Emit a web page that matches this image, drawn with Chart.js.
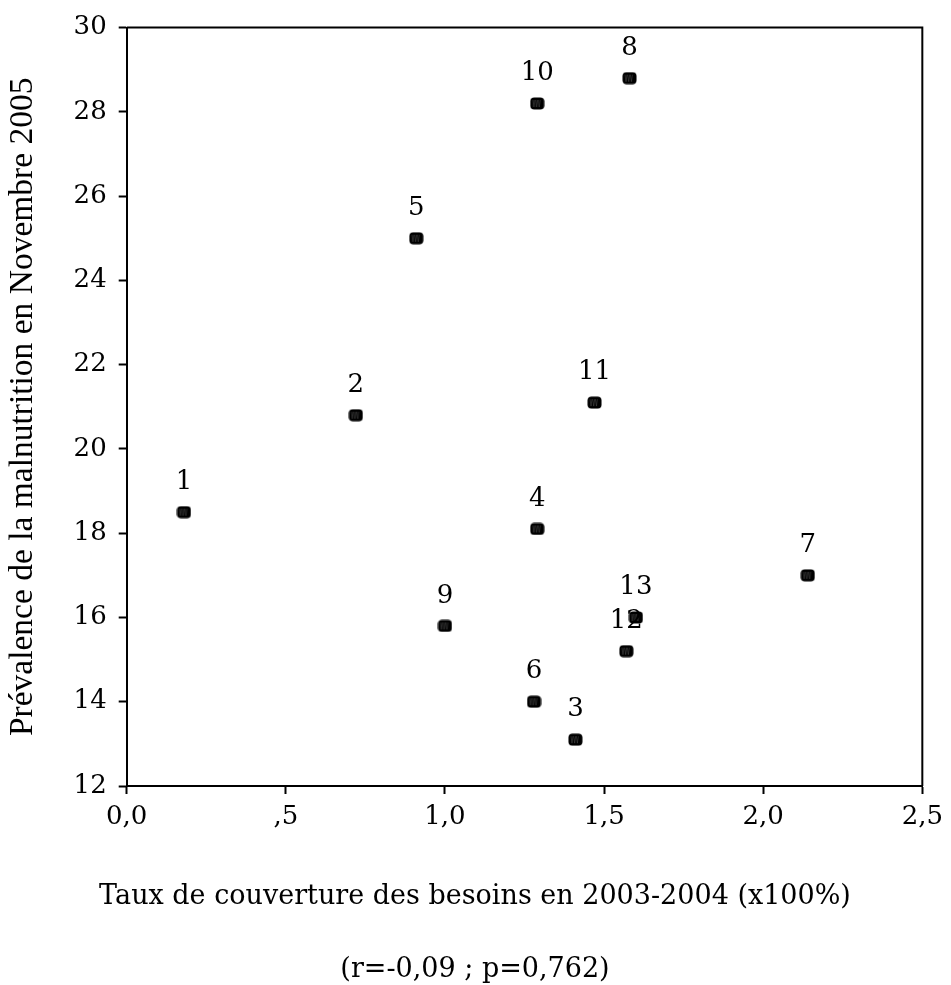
<!DOCTYPE html>
<html>
<head>
<meta charset="utf-8">
<script src="https://cdn.jsdelivr.net/npm/chart.js@4/dist/chart.umd.min.js"></script>
<style>
  body { margin: 0; background: #fff; }
  canvas { display: block; }
</style>
</head>
<body>
<canvas id="scatter" width="951" height="985"></canvas>
<script>
// data
const pointIds = ['1', '2', '3', '4', '5', '6', '7', '8', '9', '10', '11', '12', '13'];
const coverage = [0.18, 0.72, 1.41, 1.29, 0.91, 1.28, 2.14, 1.58, 1.00, 1.29, 1.47, 1.57, 1.60];
const prevalence = [18.5, 20.8, 13.1, 18.1, 25.0, 14.0, 17.0, 28.8, 15.8, 28.2, 21.1, 15.2, 16.0];
const xTickLabels = ['0,0', ',5', '1,0', '1,5', '2,0', '2,5'];
const xTitle = 'Taux de couverture des besoins en 2003-2004 (x100%)';
const yTitle = 'Prévalence de la malnutrition en Novembre 2005';
const note = '(r=-0,09 ; p=0,762)';

const serif = 'DejaVu Serif';

// little hatched rounded square like the original markers
function makeMarker() {
  const c = document.createElement('canvas');
  c.width = 15; c.height = 13;
  const g = c.getContext('2d');
  g.fillStyle = '#000';
  g.beginPath();
  g.roundRect(0.5, 0.5, 14, 12, 4);
  g.fill();
  g.strokeStyle = '#555';
  g.lineWidth = 0.5;
  for (let x = 3; x <= 11; x += 2.7) {
    g.beginPath();
    g.moveTo(x, 3);
    g.lineTo(x + 1, 10);
    g.lineTo(x + 2, 3);
    g.stroke();
  }
  return c;
}

const pts = coverage.map((v, i) => ({ x: v, y: prevalence[i] }));

const extras = {
  id: 'extras',
  afterDraw(chart) {
    const { ctx, chartArea: a } = chart;
    ctx.save();
    // box: top and right sides
    ctx.strokeStyle = '#000';
    ctx.lineWidth = 2;
    ctx.beginPath();
    ctx.moveTo(a.left, a.top);
    ctx.lineTo(a.right, a.top);
    ctx.lineTo(a.right, a.bottom);
    ctx.stroke();

    // point numbers
    ctx.fillStyle = '#000';
    ctx.font = '26px "' + serif + '"';
    ctx.textAlign = 'center';
    ctx.textBaseline = 'middle';
    chart.getDatasetMeta(0).data.forEach((el, i) => {
      ctx.fillText(pointIds[i], el.x, el.y - 30);
    });

    // axis title and correlation note
    ctx.font = '27px "' + serif + '"';
    ctx.fillText(xTitle, 475, 897);
    ctx.fillText(note, 475, 970);
    ctx.restore();
  }
};

new Chart(document.getElementById('scatter'), {
  type: 'scatter',
  data: {
    datasets: [{
      data: pts,
      pointStyle: makeMarker(),
      pointRadius: 7
    }]
  },
  options: {
    responsive: false,
    animation: false,
    layout: { padding: { left: 3, right: 24.3, top: 27.3, bottom: 0 } },
    plugins: { legend: { display: false }, tooltip: { enabled: false } },
    scales: {
      x: {
        min: 0, max: 2.5,
        afterFit: s => { s.height = 199; },
        border: { color: '#000', width: 2 },
        grid: { drawOnChartArea: false, tickLength: 8, tickColor: '#000', tickWidth: 2 },
        ticks: {
          stepSize: 0.5, padding: 8, color: '#000', maxRotation: 0,
          font: { family: serif, size: 26 },
          callback: (v, i) => xTickLabels[i]
        }
      },
      y: {
        min: 12, max: 30,
        afterFit: s => { s.width = 123.7; },
        border: { color: '#000', width: 2 },
        grid: { drawOnChartArea: false, tickLength: 8, tickColor: '#000', tickWidth: 2 },
        ticks: {
          stepSize: 2, padding: 12, color: '#000',
          font: { family: serif, size: 26 }
        },
        title: {
          display: true, text: yTitle, color: '#000', padding: 0,
          font: { family: 'Liberation Serif', size: 33.5 }
        }
      }
    }
  },
  plugins: [extras]
});
</script>
</body>
</html>
